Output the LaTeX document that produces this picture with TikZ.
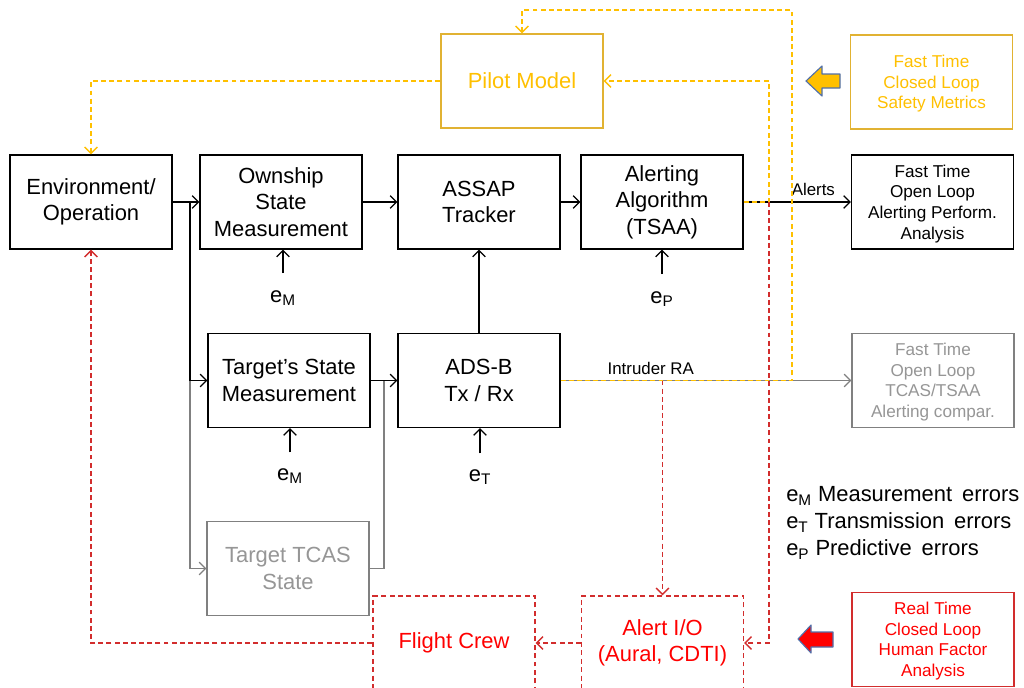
\documentclass[tikz,border=0pt]{standalone}
\usepackage{fontspec}
\setmainfont{Liberation Sans}
\usetikzlibrary{arrows.meta, positioning, calc}
\definecolor{gold}{RGB}{255,192,0}
\definecolor{goldline}{RGB}{225,178,50}
\definecolor{crim}{RGB}{210,45,45}
\definecolor{greyline}{RGB}{128,128,128}
\definecolor{greytext}{RGB}{150,150,150}
\definecolor{outblue}{RGB}{80,112,170}
\tikzset{
  blk/.style={draw, line width=0.9pt, minimum width=4.05cm, minimum height=2.35cm, align=center, inner sep=1pt, font=\fontsize{15.6}{18.8}\selectfont},
  sml/.style={blk, font=\fontsize{12.2}{14.6}\selectfont, text depth=-2pt},
  gldblk/.style={blk, draw=goldline, text=gold},
  gryblk/.style={blk, draw=greyline, text=greytext},
  redblk/.style={blk, draw=crim, dashed, dash pattern=on 3.5pt off 2.5pt, text=red},
  tra/.style={->, >={Straight Barb[length=4.5pt,width=9pt]}, line width=0.9pt},
  gtra/.style={tra, draw=greyline},
  gdash/.style={tra, draw=gold, line width=1pt, dash pattern=on 3.5pt off 2.3pt},
  rdash/.style={tra, draw=crim, line width=1pt, dash pattern=on 3.5pt off 2.3pt},
  lab/.style={font=\fontsize{12}{14}\selectfont, inner sep=2pt},
  elab/.style={font=\fontsize{15.6}{19.1}\selectfont, inner sep=0pt},
  barr/.style={draw=outblue, line width=0.8pt, line join=round}
}
\newcommand{\err}[1]{e\textsubscript{#1}}
\newcommand{\wsp}{\hspace{0.45em}}

\begin{document}
\begin{tikzpicture}[x=0.025cm, y=-0.025cm]
  \useasboundingbox[fill=white] (0,0) rectangle (1024,687);
  % top row
  \node[blk] (env) at (91,202) {Environment/\\Operation};
  \node[blk] (own) at (281,202) {Ownship\\State\\Measurement};
  \node[blk] (assap) at (479,202) {ASSAP\\Tracker};
  \node[blk] (tsaa) at (662,202) {Alerting\\Algorithm\\(TSAA)};
  \node[sml] (ftol) at (932.5,202) {Fast Time\\Open Loop\\Alerting Perform.\\Analysis};
  \node[gldblk] (pilot) at (522,81) {Pilot Model};
  \node[sml, draw=goldline, text=gold] (ftcl) at (931.5,82) {Fast Time\\Closed Loop\\Safety Metrics};
  % middle row
  \node[blk] (tsm) at (289,380.5) {Target's State\\Measurement};
  \node[blk] (adsb) at (479,380.5) {ADS-B\\Tx / Rx};
  \node[sml, draw=greyline, text=greytext] (fttc) at (933,380.5) {Fast Time\\Open Loop\\TCAS/TSAA\\Alerting compar.};
  \node[gryblk] (ttcas) at (288,568.5) {Target TCAS\\State};
  % bottom row
  \node[redblk] (crew) at (454,643) {Flight Crew};
  \node[redblk] (aio) at (662.5,643) {Alert I/O\\(Aural, CDTI)};
  \node[sml, draw=crim, text=red] (rtcl) at (933,639.5) {Real Time\\Closed Loop\\Human Factor\\Analysis};
  % block arrows
  \draw[barr, fill=gold] (806,81) -- (822,66) -- (822,74) -- (840,74) -- (840,88) -- (822,88) -- (822,96) -- cycle;
  \draw[barr, fill=red] (798,639) -- (811,625) -- (811,632) -- (833,632) -- (833,647) -- (811,647) -- (811,653) -- cycle;
  % error inputs
  \node[elab, anchor=base] (em1) at (283,302) {\err{M}};
  \node[elab, anchor=base] (em2) at (290,480) {\err{M}};
  \node[elab, anchor=base] (et) at (480,481) {\err{T}};
  \node[elab, anchor=base] (ep) at (662,303) {\err{P}};
  \draw[tra] ([yshift=12pt]em1.north) -- (em1.north |- own.south);
  \draw[tra] ([yshift=11pt]em2.north) -- (em2.north |- tsm.south);
  \draw[tra] ([yshift=11pt]et.north) -- (et.north |- adsb.south);
  \draw[tra] ([yshift=12pt]ep.north) -- (ep.north |- tsaa.south);
  \node[elab, align=left, anchor=west] (legend) at (786,523) {\err{M} Measurement\wsp errors\\\err{T} Transmission\wsp errors\\\err{P} Predictive\wsp errors};
  % signal flow
  \coordinate (sp) at (190,202);
  \coordinate (jn) at (384,380.5);
  \draw[tra] (env) -- (own);
  \draw[gtra] (sp) |- (ttcas);
  \draw[tra] (sp) |- (tsm);
  \draw[tra] (own) -- (assap);
  \draw[tra] (assap) -- (tsaa);
  \draw[tra] (adsb) -- (assap);
  \draw[tra] (tsm) -- (adsb);
  \draw[greyline, line width=0.9pt] (ttcas.east) -| (jn);
  \draw[gtra] (adsb) -- node[lab, above, pos=0.31, yshift=2pt, text=black] {Intruder RA} (fttc);
  \draw[tra] (tsaa) -- node[lab, above, pos=0.65, yshift=2pt] {Alerts} (ftol);
  % closed loops
  \coordinate (g1) at (792,10);
  \coordinate (g2) at (769,81);
  \draw[gdash] (adsb.east) -| (g1) -| (pilot.north);
  \draw[gdash] (tsaa.east) -| (g2) -- (pilot.east);
  \draw[gdash] (pilot.west) -| (env.north);
  \draw[rdash] (tsaa.east -| g2) |- (aio.east);
  \draw[rdash] (adsb.east -| aio.north) -- (aio.north);
  \draw[rdash] (aio) -- (crew);
  \draw[rdash] (crew.west) -| (env.south);
\end{tikzpicture}
\end{document}
